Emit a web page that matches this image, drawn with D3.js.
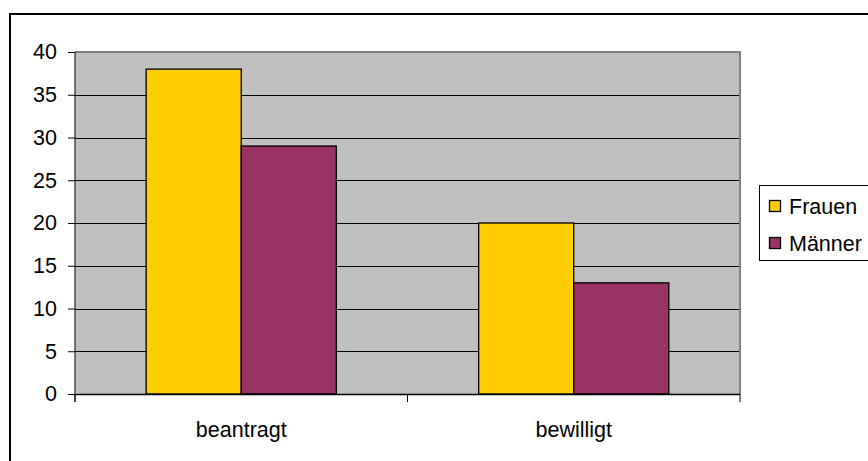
<!DOCTYPE html>
<html>
<head>
<meta charset="utf-8">
<script src="https://cdn.jsdelivr.net/npm/d3@7"></script>
<style>
html,body{margin:0;padding:0;background:#fff;}
svg{display:block;}
text{font-family:"Liberation Sans",Arial,sans-serif;fill:#000;}
</style>
</head>
<body>
<svg id="chart" width="868" height="461"></svg>
<script>
const categories = ["beantragt", "bewilligt"];
const seriesNames = ["Frauen", "Männer"];
const frauen = [38, 20];
const maenner = [29, 13];
const yTicks = [0, 5, 10, 15, 20, 25, 30, 35, 40];
const colors = ["#FFCC00", "#993366"];

const seriesValues = [frauen, maenner];
const svg = d3.select("#chart");
const fontSize = 21.5;

// outer frame (cut off at right/bottom)
svg.append("rect").attr("x", 10).attr("y", 14).attr("width", 900).attr("height", 500)
  .attr("fill", "#fff").attr("stroke", "#000").attr("stroke-width", 2);

const plot = {left: 75, right: 740, top: 52, bottom: 394};

const y = d3.scaleLinear().domain([0, 40]).range([plot.bottom, plot.top]);
const x0 = d3.scaleBand().domain(categories).range([plot.left, plot.right]).padding(0);
const groupFrac = 0.572;
const gOff = x0.bandwidth() * (1 - groupFrac) / 2;
const x1 = d3.scaleBand().domain(seriesNames).range([gOff, x0.bandwidth() - gOff]).padding(0);

// plot background
svg.append("rect").attr("x", plot.left).attr("y", plot.top)
  .attr("width", plot.right - plot.left).attr("height", plot.bottom - plot.top)
  .attr("fill", "#C0C0C0");

// gridlines
svg.append("g").selectAll("line").data(yTicks.filter(d => d > 0 && d < 40)).join("line")
  .attr("x1", plot.left).attr("x2", plot.right)
  .attr("y1", d => Math.round(y(d)) + 0.5).attr("y2", d => Math.round(y(d)) + 0.5)
  .attr("stroke", "#000").attr("stroke-width", 1);

// plot border top & right (gray)
svg.append("line").attr("x1", plot.left).attr("x2", plot.right + 1)
  .attr("y1", plot.top).attr("y2", plot.top).attr("stroke", "#808080").attr("stroke-width", 2);
svg.append("line").attr("x1", plot.right).attr("x2", plot.right)
  .attr("y1", plot.top).attr("y2", plot.bottom).attr("stroke", "#808080").attr("stroke-width", 2);

// bars
const groups = svg.append("g").selectAll("g").data(categories).join("g")
  .attr("transform", c => `translate(${x0(c)},0)`);
groups.selectAll("rect").data((c, ci) => seriesNames.map((s, si) => ({s, si, v: seriesValues[si][ci]})))
  .join("rect")
  .attr("x", d => x1(d.s))
  .attr("y", d => y(d.v))
  .attr("width", x1.bandwidth())
  .attr("height", d => y(0) - y(d.v))
  .attr("fill", d => colors[d.si])
  .attr("stroke", "#000").attr("stroke-width", 1.3);

// y axis
const yAxis = d3.axisLeft(y).tickValues(yTicks).tickSize(7).tickPadding(11).tickFormat(d3.format("d"));
const gy = svg.append("g").attr("transform", `translate(${plot.left},0)`).call(yAxis);
gy.select(".domain").attr("d", `M0,${plot.top}V${plot.bottom + 8}`).attr("stroke", "#000");
gy.selectAll("text").style("font-size", fontSize + "px").attr("font-family", "Liberation Sans, Arial, sans-serif").attr("fill", "#000");
gy.selectAll(".tick line").attr("stroke", "#000");

// x axis
const xAxis = d3.axisBottom(x0).tickSize(0).tickPadding(0);
const gx = svg.append("g").attr("transform", `translate(0,${plot.bottom})`).call(xAxis);
gx.select(".domain").attr("d", `M${plot.left},0.5H${plot.right}`).attr("stroke", "#000").attr("stroke-width", 1.5);
gx.selectAll(".tick text").attr("y", 43).attr("dy", 0).style("font-size", fontSize + "px")
  .attr("font-family", "Liberation Sans, Arial, sans-serif").attr("fill", "#000");
// category boundary ticks
const bounds = categories.map(c => x0(c)).concat([plot.right]);
gx.append("g").selectAll("line").data(bounds).join("line")
  .attr("x1", d => d).attr("x2", d => d).attr("y1", 0).attr("y2", 8)
  .attr("stroke", "#000");

// legend
const lg = svg.append("g");
lg.append("rect").attr("x", 759.5).attr("y", 185.5).attr("width", 120).attr("height", 75)
  .attr("fill", "#fff").attr("stroke", "#000").attr("stroke-width", 1);
const items = lg.selectAll("g").data(seriesNames).join("g")
  .attr("transform", (d, i) => `translate(0,${206 + i * 37})`);
items.append("rect").attr("x", 769.5).attr("y", -5.5).attr("width", 11).attr("height", 11)
  .attr("fill", (d, i) => colors[i]).attr("stroke", "#000").attr("stroke-width", 1.3);
items.append("text").attr("x", 789).attr("y", 7.5).style("font-size", fontSize + "px").text(d => d);
</script>
</body>
</html>
